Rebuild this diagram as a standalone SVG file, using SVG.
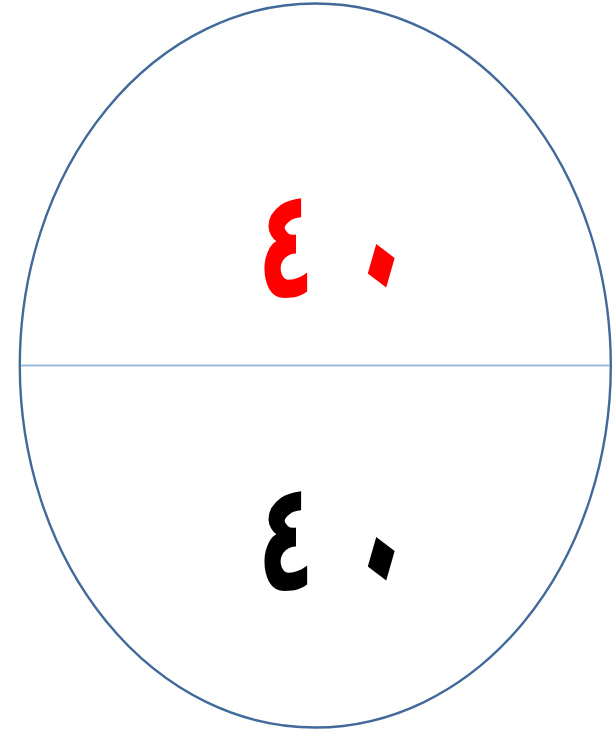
<svg xmlns="http://www.w3.org/2000/svg" width="616" height="737" viewBox="0 0 616 737">
<style>
.num{font-family:"DejaVu Sans",sans-serif;font-weight:bold;font-size:120px}
.zero{font-size:150px;text-anchor:middle}
</style>
<rect width="616" height="737" fill="#fff"/>
<g id="oval">
<ellipse cx="315.3" cy="365.5" rx="295.5" ry="362" fill="none" stroke="#41699a" stroke-width="2.4"/>
</g>
<g id="connectors">
<line x1="21" y1="365.5" x2="610" y2="365.5" stroke="#9cbbdc" stroke-width="2"/>
</g>
<g id="top">
<text class="num" transform="translate(257.5,297) scale(0.78,1.27)" fill="#ff0000">٤<tspan class="zero" x="145" y="-6" rotate="25">٠</tspan></text>
</g>
<g id="bottom">
<text class="num" transform="translate(257.5,590) scale(0.78,1.27)" fill="#000">٤<tspan class="zero" x="145" y="-6" rotate="25">٠</tspan></text>
</g>
</svg>
